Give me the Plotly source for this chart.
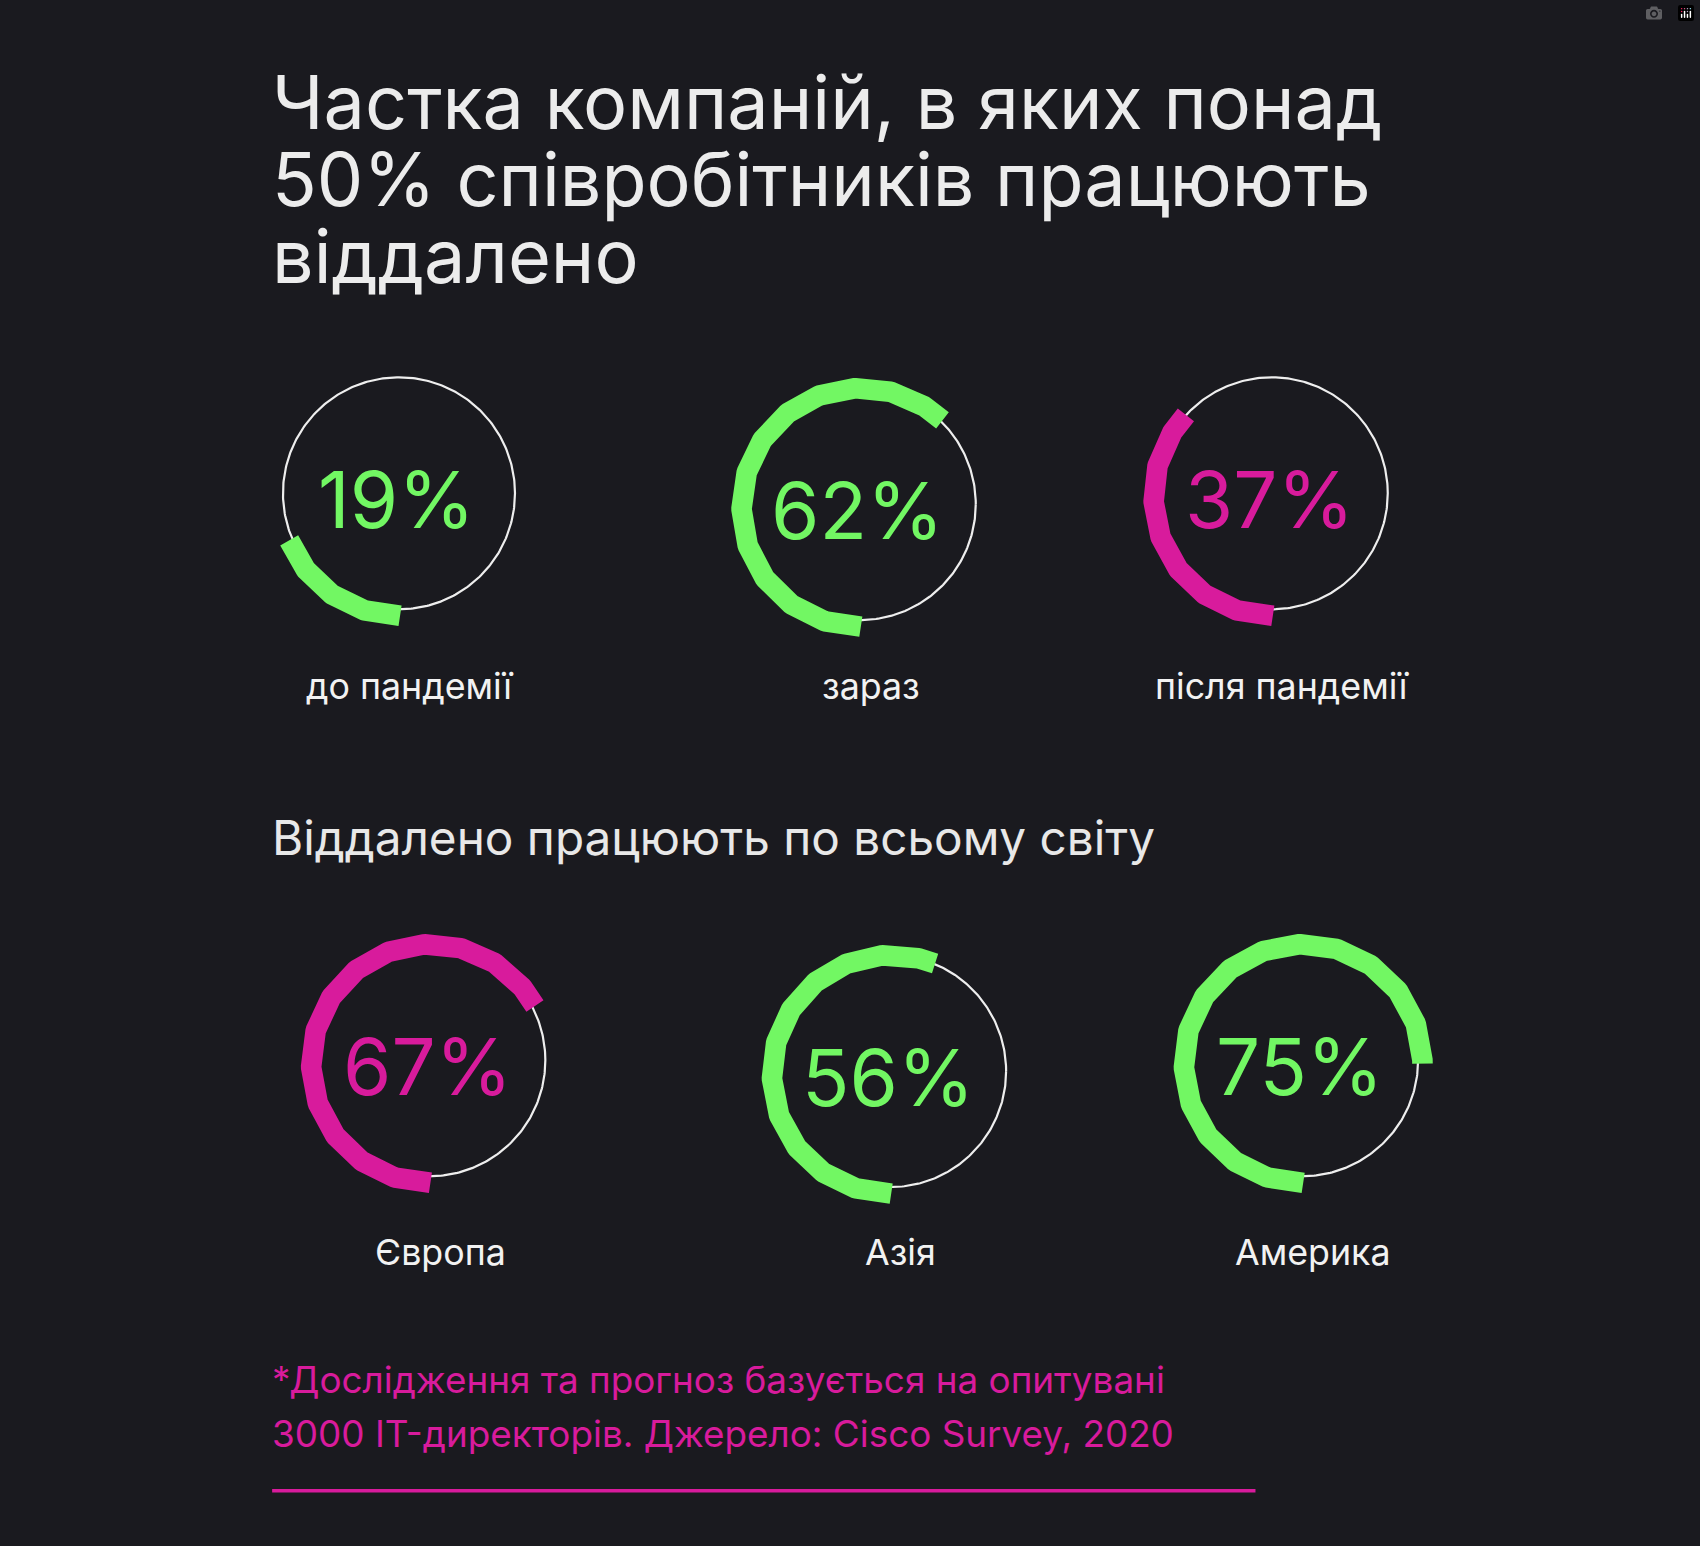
import numpy as np
import plotly.graph_objects as go

title_lines = ["Частка компаній, в яких понад", "50% співробітників працюють", "віддалено"]
subtitle = "Віддалено працюють по всьому світу"
labels = ["до пандемії", "зараз", "після пандемії", "Європа", "Азія", "Америка"]
values = [19, 62, 37, 67, 56, 75]
colors = ["#72f763", "#72f763", "#d81b9c", "#d81b9c", "#72f763", "#72f763"]
centers_x = [368, 793, 1173, 396, 821, 1201]
centers_y = [455, 465, 455, 978, 988, 978]
label_y = [633, 633, 633, 1155, 1155, 1155]
footnote = ["*Дослідження та прогноз базується на опитувані", "3000 IT-директорів. Джерело: Cisco Survey, 2020"]

S = 1700 / 1568
BG = "#1a1a1f"
FONT = "Inter"
fig = go.Figure()

R_WHITE, R_ARC = 107, 110
for v, c, cx, cy, lab, ly in zip(values, colors, centers_x, centers_y, labels, label_y):
    t = np.linspace(0, 2 * np.pi, 361)
    fig.add_trace(go.Scatter(x=cx + R_WHITE * np.cos(t), y=cy + R_WHITE * np.sin(t), mode="lines",
                             line=dict(color="#eeeeee", width=2.2), hoverinfo="skip", showlegend=False))
    th = np.linspace(0, 2 * np.pi * v / 100, 300)
    acx, acy = cx + 1, cy + 3
    fig.add_trace(go.Scatter(x=acx - R_ARC * np.sin(th), y=acy + R_ARC * np.cos(th), mode="lines",
                             line=dict(color=c, width=19 * S), hoverinfo="skip", showlegend=False))
    fig.add_annotation(x=cx - 2, y=cy + 6, text=f"{v}%", showarrow=False,
                       font=dict(family=FONT, size=72 * S, color=c), xanchor="center", yanchor="middle")
    fig.add_annotation(x=cx + 10, y=ly, text=lab, showarrow=False,
                       font=dict(family=FONT, size=33 * S, color="#f2f2f2"), xanchor="center", yanchor="middle")

for i, line in enumerate(title_lines):
    fig.add_annotation(x=249, y=95 + 71 * i, text=line, showarrow=False, xanchor="left", yanchor="middle",
                       font=dict(family=FONT, size=68 * S, color="#ececec"))
fig.add_annotation(x=249, y=773, text=subtitle, showarrow=False, xanchor="left", yanchor="middle",
                   font=dict(family=FONT, size=44 * S, color="#e8e8e8"))
for i, line in enumerate(footnote):
    fig.add_annotation(x=249, y=1272 + 50 * i, text=line, showarrow=False, xanchor="left", yanchor="middle",
                       font=dict(family=FONT, size=34 * S, color="#d81b9c"))
fig.add_shape(type="line", x0=251, x1=1158, y0=1375, y1=1375, line=dict(color="#d81b9c", width=3.5))

fig.update_layout(width=1700, height=1546, margin=dict(l=0, r=0, t=0, b=0),
                  paper_bgcolor=BG, plot_bgcolor=BG,
                  xaxis=dict(range=[0, 1568], visible=False, fixedrange=True),
                  yaxis=dict(range=[1426, 0], visible=False, fixedrange=True))
fig.write_html("out.html",
               post_script="document.body.style.margin='0';document.body.style.background='#1a1a1f';")
